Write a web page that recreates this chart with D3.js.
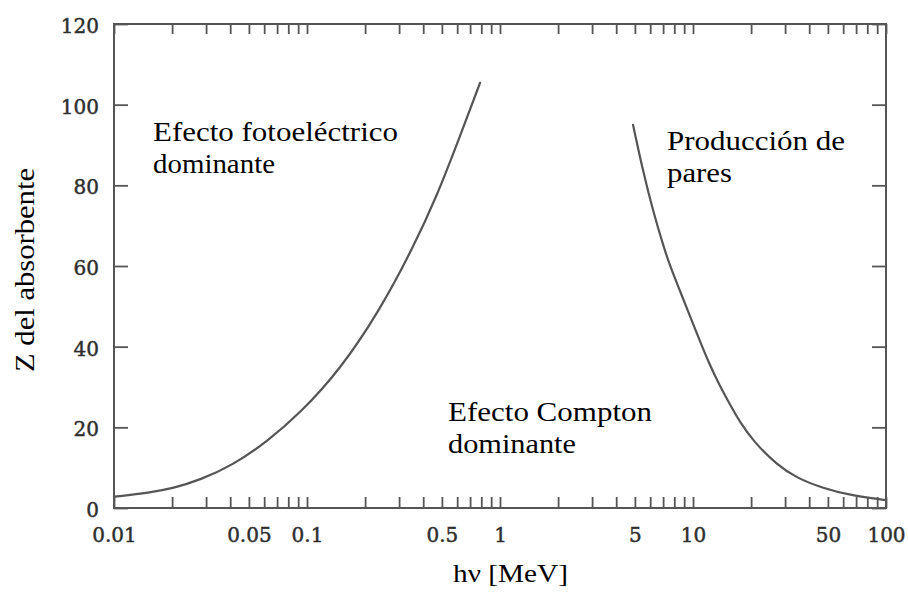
<!DOCTYPE html>
<html>
<head>
<meta charset="utf-8">
<script src="https://cdn.jsdelivr.net/npm/d3@7"></script>
<style>
  html, body { margin: 0; padding: 0; background: #fff; }
  svg { display: block; }
</style>
</head>
<body>
<svg id="chart" width="908" height="595"></svg>
<script>
// ---- data ----
// boundary: photoelectric vs Compton
const photoEnergy = [0.01, 0.01537, 0.0202, 0.0279, 0.0414, 0.062, 0.092, 0.148, 0.239, 0.354, 0.472, 0.621, 0.788];
const photoZ      = [2.8, 3.8, 4.88, 6.94, 10.66, 16.44, 23.48, 34.2, 49.1, 64.5, 77.4, 92.2, 105.4];
// boundary: Compton vs pair production
const pairEnergy  = [4.89, 5.5, 6.21, 7.0, 7.6, 8.57, 9.64, 10.9, 12.2, 13.8, 15.6, 17.5, 20.5, 27.2, 34.6, 47.2, 65.1, 93.1, 98];
const pairZ       = [95, 83.6, 73.6, 65.2, 60.0, 53.8, 47.6, 41.2, 35.5, 30.2, 25.5, 21.3, 16.6, 10.7, 7.4, 4.9, 3.2, 2.16, 2.0];

const xLabelValues = [0.01, 0.05, 0.1, 0.5, 1, 5, 10, 50, 100];
const xLabelTexts  = ["0.01", "0.05", "0.1", "0.5", "1", "5", "10", "50", "100"];
const yTickValues  = [0, 20, 40, 60, 80, 100, 120];
const yTickTexts   = ["0", "20", "40", "60", "80", "100", "120"];

const xTitle = "hν [MeV]";
const yTitle = "Z del absorbente";
const regionLabels = [
  { lines: ["Efecto fotoeléctrico", "dominante"] },
  { lines: ["Efecto Compton", "dominante"] },
  { lines: ["Producción de", "pares"] }
];

// ---- drawing ----
const svg = d3.select("#chart");
const X0 = 114, X1 = 886, Y0 = 24, Y1 = 508;
const axisColor = "#555";

const x = d3.scaleLog().domain([0.01, 100]).range([X0, X1]);
const y = d3.scaleLinear().domain([0, 120]).range([Y1, Y0]);

const xTicks = x.ticks();
const xFmt = d => {
  const i = xLabelValues.findIndex(v => Math.abs(Math.log10(v) - Math.log10(d)) < 1e-6);
  return i >= 0 ? xLabelTexts[i] : "";
};
const yFmt = d => yTickTexts[yTickValues.indexOf(d)];

function styleAxis(g) {
  g.select(".domain").remove();
  g.selectAll(".tick line").attr("stroke", axisColor).attr("stroke-width", 1.8);
  g.selectAll(".tick text")
    .attr("fill", "#2e2e2e")
    .attr("stroke", "#2e2e2e")
    .attr("stroke-width", 0.45)
    .attr("font-family", "'DejaVu Serif', serif")
    .attr("font-size", 20);
}

svg.append("g").attr("transform", `translate(0,${Y1})`)
  .call(d3.axisBottom(x).tickValues(xTicks).tickSizeInner(-11).tickSizeOuter(0).tickPadding(20).tickFormat(xFmt))
  .call(styleAxis);

svg.append("g").attr("transform", `translate(0,${Y0})`)
  .call(d3.axisTop(x).tickValues(xTicks).tickSizeInner(-10).tickSizeOuter(0).tickFormat(""))
  .call(styleAxis);

svg.append("g").attr("transform", `translate(${X0},0)`)
  .call(d3.axisLeft(y).tickValues(yTickValues).tickSizeInner(-14).tickSizeOuter(0).tickPadding(15).tickFormat(yFmt))
  .call(styleAxis)
  .call(g => g.selectAll(".tick text").attr("dy", "0.43em"));

svg.append("g").attr("transform", `translate(${X1},0)`)
  .call(d3.axisRight(y).tickValues(yTickValues).tickSizeInner(-14).tickSizeOuter(0).tickFormat(""))
  .call(styleAxis);

// frame
svg.append("rect")
  .attr("x", X0).attr("y", Y0).attr("width", X1 - X0).attr("height", Y1 - Y0)
  .attr("fill", "none").attr("stroke", axisColor).attr("stroke-width", 2);

// curves
const line = d3.line().x(d => x(d[0])).y(d => y(d[1])).curve(d3.curveBasis);
const series = [
  photoEnergy.map((e, i) => [e, photoZ[i]]),
  pairEnergy.map((e, i) => [e, pairZ[i]])
];
svg.selectAll("path.curve").data(series).join("path")
  .attr("class", "curve")
  .attr("d", line)
  .attr("fill", "none")
  .attr("stroke", "#555")
  .attr("stroke-width", 2.2)
  .attr("stroke-linecap", "round");

// region labels
const labelLayout = [
  { x: 153, y: 140.7, dy: 32.6, widths: [245, 122] },
  { x: 448, y: 420.7, dy: 32.6, widths: [204, 128] },
  { x: 667, y: 149.5, dy: 32.4, widths: [178, 65] }
];
regionLabels.forEach((lab, k) => {
  const L = labelLayout[k];
  lab.lines.forEach((t, j) => {
    svg.append("text")
      .attr("x", L.x).attr("y", L.y + j * L.dy)
      .attr("font-family", "'Liberation Serif', 'Times New Roman', serif")
      .attr("font-size", 27)
      .attr("fill", "#000")
      .attr("textLength", L.widths[j])
      .attr("lengthAdjust", "spacingAndGlyphs")
      .text(t);
  });
});

// axis titles
svg.append("text")
  .attr("x", 453).attr("y", 582)
  .attr("font-family", "'Liberation Serif', 'Times New Roman', serif")
  .attr("font-size", 26)
  .attr("fill", "#000")
  .attr("textLength", 115)
  .attr("lengthAdjust", "spacingAndGlyphs")
  .text(xTitle);

svg.append("text")
  .attr("transform", "translate(34,372) rotate(-90)")
  .attr("font-family", "'Liberation Serif', 'Times New Roman', serif")
  .attr("font-size", 27)
  .attr("fill", "#000")
  .attr("textLength", 204)
  .attr("lengthAdjust", "spacingAndGlyphs")
  .text(yTitle);
</script>
</body>
</html>
